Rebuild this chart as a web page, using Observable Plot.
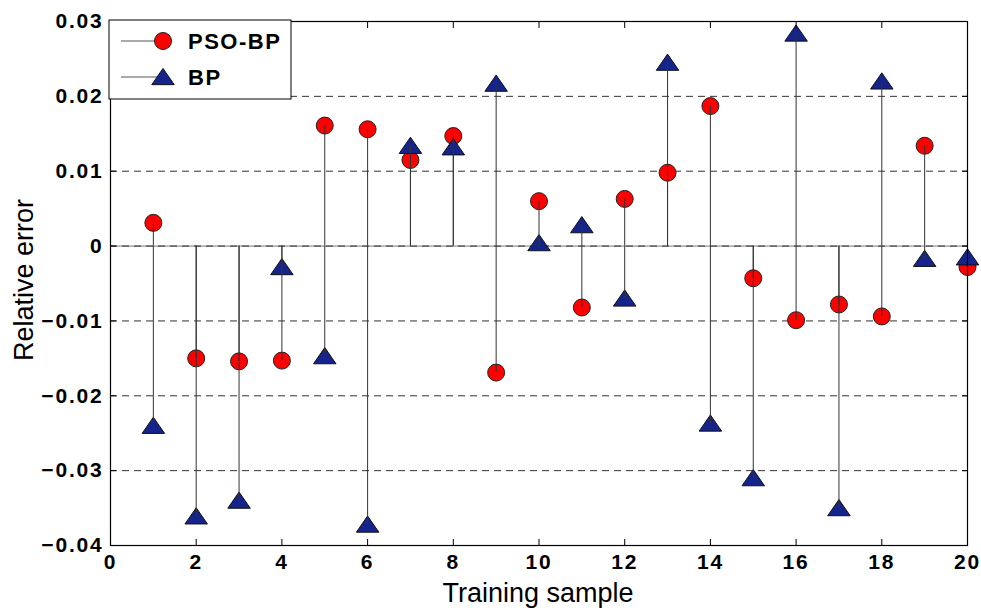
<!DOCTYPE html>
<html>
<head>
<meta charset="utf-8">
<script src="https://cdn.jsdelivr.net/npm/d3@7"></script>
<script src="https://cdn.jsdelivr.net/npm/@observablehq/plot@0.6"></script>
<style>
  html, body { margin: 0; padding: 0; background: #fff; }
  #chart svg { display: block; }
  #chart svg g[aria-label="x-axis tick label"] text,
  #chart svg g[aria-label="y-axis tick label"] text { font-weight: bold; font-size: 21px; letter-spacing: 1.8px; }
</style>
</head>
<body>
<div id="chart"></div>
<script>
const samples = [1, 2, 3, 4, 5, 6, 7, 8, 9, 10, 11, 12, 13, 14, 15, 16, 17, 18, 19, 20];
const psoBP = [0.0031, -0.0150, -0.0154, -0.0153, 0.0161, 0.0156, 0.0115, 0.0147, -0.0169, 0.0060,
               -0.0082, 0.0063, 0.0098, 0.0187, -0.0043, -0.0099, -0.0078, -0.0094, 0.0134, -0.0028];
const bp = [-0.0240, -0.0361, -0.0340, -0.0028, -0.0147, -0.0372, 0.0134, 0.0132, 0.0217, 0.0004,
            0.0028, -0.0070, 0.0245, -0.0237, -0.0310, 0.0284, -0.0350, 0.0220, -0.0017, -0.0015];
const xTicks = [0, 2, 4, 6, 8, 10, 12, 14, 16, 18, 20];
const yTicks = [-0.04, -0.03, -0.02, -0.01, 0, 0.01, 0.02, 0.03];
const gridTicks = [-0.03, -0.02, -0.01, 0, 0.01, 0.02];
const seriesNames = ["PSO-BP", "BP"];
const seriesColors = ["#ff0000", "#14248c"];

const psoData = samples.map((s, i) => ({sample: s, value: psoBP[i]}));
const bpData = samples.map((s, i) => ({sample: s, value: bp[i]}));

// flattened triangle like MATLAB '^'
const tri = {
  draw(ctx, size) {
    const r = Math.sqrt(size / Math.PI);
    ctx.moveTo(0, -0.95 * r);
    ctx.lineTo(1.25 * r, 0.85 * r);
    ctx.lineTo(-1.25 * r, 0.85 * r);
    ctx.closePath();
  }
};

const font = "'Liberation Sans', Arial, Helvetica, sans-serif";

const chart = Plot.plot({
  width: 981,
  height: 608,
  marginLeft: 110,
  marginRight: 14,
  marginTop: 21,
  marginBottom: 63,
  style: {fontFamily: font, fontSize: "20px", color: "#000", background: "#fff"},
  x: {domain: [0, 20]},
  y: {domain: [-0.04, 0.03]},
  marks: [
    Plot.ruleY([0], {stroke: "#777", strokeWidth: 1}),
    Plot.ruleY(gridTicks, {stroke: "#333", strokeWidth: 1, strokeDasharray: "7,5"}),
    Plot.dot(psoData, {x: "sample", y: "value", r: 8.5, fill: seriesColors[0], stroke: "#222", strokeWidth: 1}),
    Plot.dot(bpData, {x: "sample", y: "value", r: 9, symbol: tri, fill: seriesColors[1], stroke: "#111", strokeWidth: 1}),
    Plot.ruleX(psoData, {x: "sample", y1: 0, y2: "value", stroke: "#333", strokeWidth: 1}),
    Plot.ruleX(bpData, {x: "sample", y1: 0, y2: "value", stroke: "#333", strokeWidth: 1}),
    Plot.axisX({anchor: "bottom", ticks: xTicks, tickSize: 0, tickPadding: 9, label: null, fontSize: 21, fontWeight: "bold"}),
    Plot.axisX({anchor: "bottom", ticks: xTicks, tickSize: -6, tickFormat: () => "", label: null}),
    Plot.axisX({anchor: "top", ticks: xTicks, tickSize: -6, tickFormat: () => "", label: null}),
    Plot.axisY({anchor: "left", ticks: yTicks, tickSize: 0, tickPadding: 7, tickFormat: d => d === 0 ? "0" : d3.format(".2f")(d), label: null, fontSize: 21, fontWeight: "bold"}),
    Plot.axisY({anchor: "left", ticks: yTicks, tickSize: -6, tickFormat: () => "", label: null}),
    Plot.axisY({anchor: "right", ticks: yTicks, tickSize: -6, tickFormat: () => "", label: null}),
    Plot.frame({stroke: "#000", strokeWidth: 1.2})
  ]
});

document.getElementById("chart").appendChild(chart);

// axis titles and legend
const svg = d3.select(chart);
svg.append("text")
  .attr("x", 538).attr("y", 602)
  .attr("text-anchor", "middle")
  .style("font-family", font).style("font-size", "27px").attr("fill", "#000")
  .text("Training sample");
svg.append("text")
  .attr("transform", "translate(33,280) rotate(-90)")
  .attr("text-anchor", "middle")
  .style("font-family", font).style("font-size", "27px").attr("fill", "#000")
  .text("Relative error");

const lg = svg.append("g");
lg.append("rect").attr("x", 109).attr("y", 20).attr("width", 182).attr("height", 79)
  .attr("fill", "#fff").attr("stroke", "#000").attr("stroke-width", 1);
const rows = [41, 77];
rows.forEach((yy, i) => {
  lg.append("line").attr("x1", 121).attr("x2", 160).attr("y1", yy).attr("y2", yy)
    .attr("stroke", "#555").attr("stroke-width", 1);
  if (i === 0) {
    lg.append("circle").attr("cx", 163).attr("cy", yy).attr("r", 8.5)
      .attr("fill", seriesColors[0]).attr("stroke", "#222");
  } else {
    const p = d3.path();
    tri.draw(p, Math.PI * 81);
    lg.append("path").attr("d", p.toString()).attr("transform", `translate(163,${yy})`)
      .attr("fill", seriesColors[1]).attr("stroke", "#111");
  }
  lg.append("text").attr("x", 188).attr("y", yy + 8)
    .attr("text-anchor", "start")
    .style("font-family", font).style("font-size", "22px").style("font-weight", "bold")
    .style("letter-spacing", "1.5px")
    .attr("fill", "#000").text(seriesNames[i]);
});
</script>
</body>
</html>
